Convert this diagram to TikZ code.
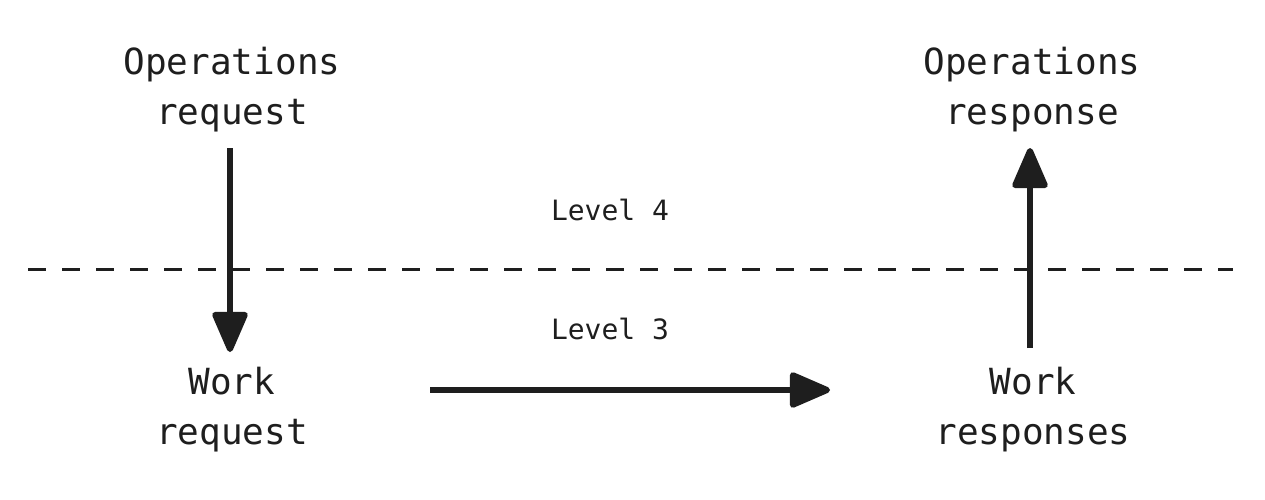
\documentclass[tikz,border=0pt]{standalone}
\usepackage{fontspec}
\setmainfont{DejaVu Sans Mono}
\usetikzlibrary{arrows.meta}
\definecolor{ink}{HTML}{1E1E1E}
\begin{document}
\begin{tikzpicture}[x=1pt,y=-1pt,
  big/.style={font=\fontsize{36}{50}\selectfont, text=ink, align=center, inner sep=0pt},
  small/.style={font=\fontsize{28}{34}\selectfont, text=ink, inner sep=0pt},
  flow/.style={draw=ink, line width=6pt, -{Triangle[length=45pt,width=37pt,round]}},
  level/.style={draw=ink, line width=3pt, dash pattern=on 18pt off 16pt}]
\useasboundingbox (0,0) rectangle (1265,500);
\node[big] (opreq) at (232,90) {Operations\\request};
\node[big] (wreq) at (232,410) {Work\\request};
\node[big] (wresp) at (1033,410) {Work\\responses};
\node[big] (opresp) at (1032,90) {Operations\\response};
\node[small] (l4) at (610,210) {Level 4};
\node[small] (l3) at (610,329) {Level 3};
\coordinate (dl) at (28,269);
\coordinate (dr) at (1233,269);
\draw[level] (dl) -- (dr);
\coordinate (a1s) at (230,148);
\coordinate (a1e) at (230,352);
\draw[flow] (a1s) -- (a1e);
\coordinate (a2s) at (430,390);
\coordinate (a2e) at (830,390);
\draw[flow] (a2s) -- (a2e);
\coordinate (a3s) at (1030,348);
\coordinate (a3e) at (1030,148);
\draw[flow] (a3s) -- (a3e);
\end{tikzpicture}
\end{document}
